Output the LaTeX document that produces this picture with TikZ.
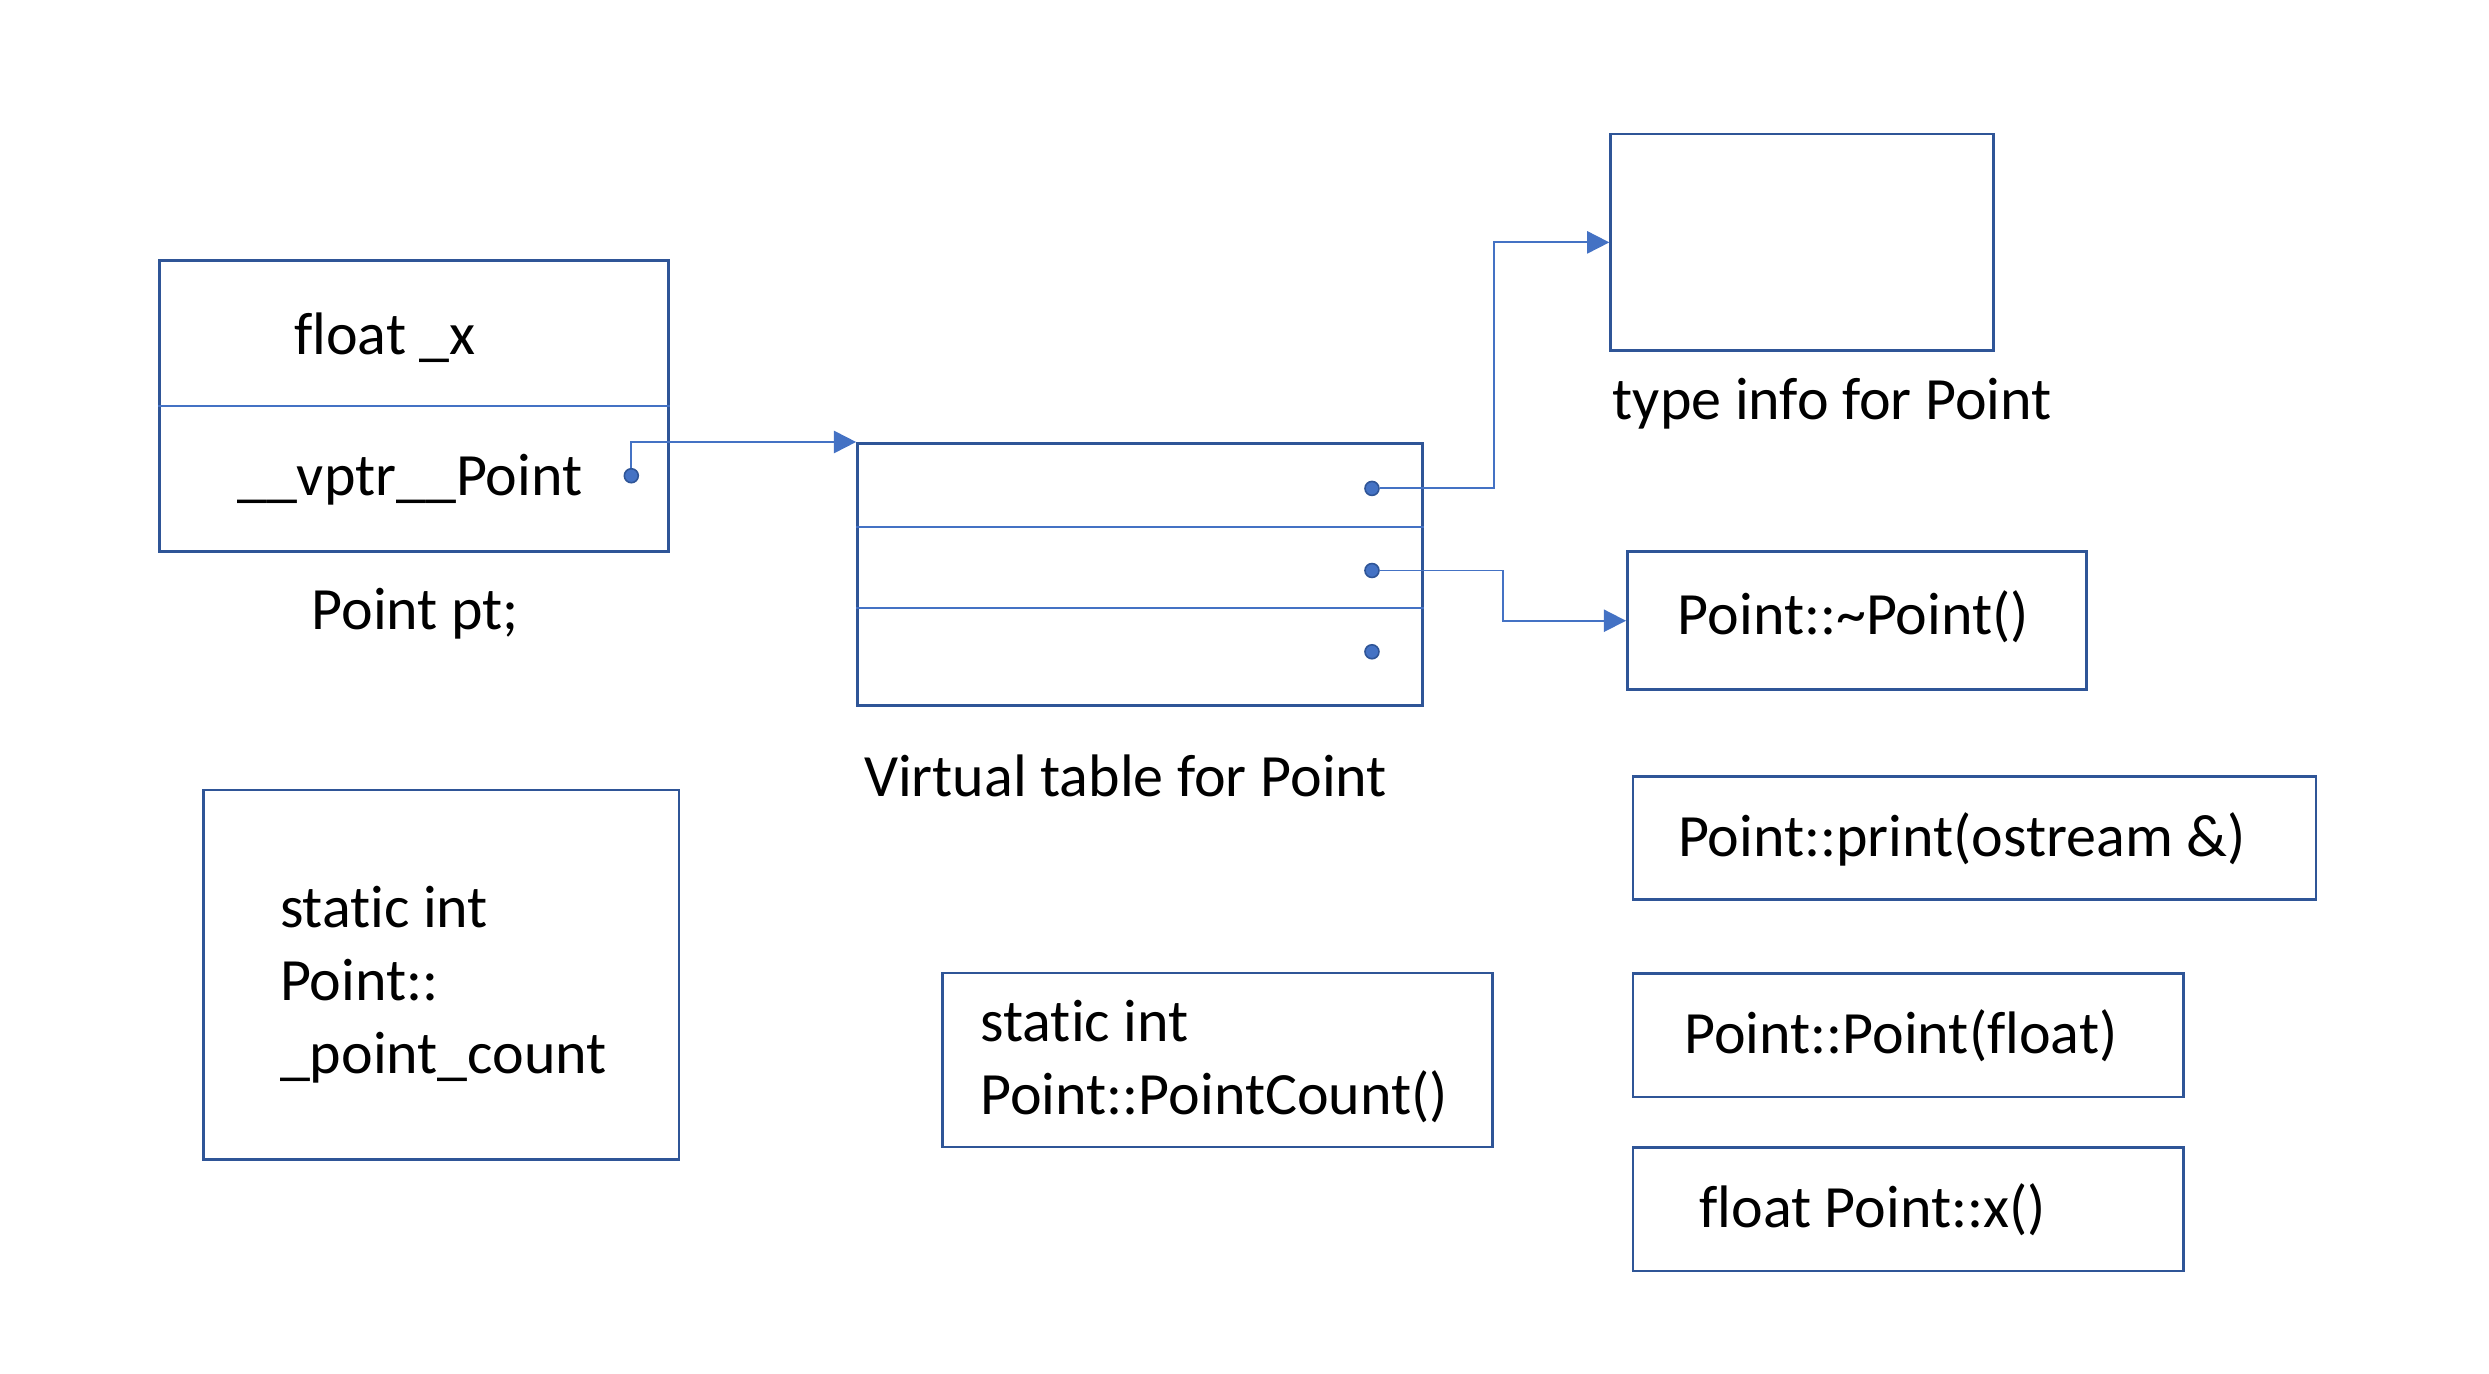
\documentclass[tikz,border=0pt]{standalone}
\usepackage{fontspec}
\setmainfont{Carlito}[Ligatures=NoCommon]
\usetikzlibrary{arrows.meta,calc,fit}
\definecolor{boxblue}{HTML}{2F5597}
\definecolor{linkblue}{HTML}{4472C4}
\begin{document}
\begin{tikzpicture}
	  [
	    x                   = 0.5pt,
	    y                   = -0.5pt,
	    every node/.style   = {font=\fontsize{18.9}{23}\selectfont},
	    box/.style          = {draw=boxblue, line width=0.85pt, inner sep=0pt},
	    sep/.style          = {draw=linkblue, line width=0.6pt},
	    link/.style         = {draw=linkblue, line width=0.6pt, -{Triangle[length=7pt, width=7pt]}},
	    slot/.style         = {circle, fill=linkblue, draw=boxblue, line width=0.5pt, inner sep=0pt, minimum size=4.4pt},
	    txt/.style          = {inner sep=0pt, anchor=base west, align=left}
	  ]
	  \useasboundingbox (0,0) rectangle (1568,865);
	  % object pt and its vtable
	  \node[box, fit={(100.5,163.9) (421.2,347.6)}] (pt) {};
	  \node[box, fit={(540.2,279.3) (896.3,444.6)}] (vt) {};
	  \node[box, fit={(1014.7,84.4) (1256,221)}] (ti) {};
	  \draw[sep] (pt.west) -- (pt.east);
	  \foreach \f in {0.319,0.627}
	    \draw[sep] ($(vt.north west)!\f!(vt.south west)$) -- ($(vt.north east)!\f!(vt.south east)$);
	  % member functions
	  \node[box, fit={(1025.2,347.6) (1314.5,434.5)}] (dtor) {};
	  \node[box, fit={(1028.7,489) (1459,566.8)}] (prt) {};
	  \node[box, fit={(1028.7,613.3) (1375.5,691)}] (ctor) {};
	  \node[box, fit={(1028.7,723.1) (1375.5,800.7)}] (getx) {};
	  % statics
	  \node[box, fit={(128,497.6) (427.7,730.6)}] (cnt) {};
	  \node[box, fit={(593.7,613) (940.2,722.6)}] (pcnt) {};

	  \node[txt] (tx) at (185,223.6) {float \_x};
	  \node[txt] (tv) at (149,312) {\_\_vptr\_\_Point};
	  \node[txt] (tpt) at (196,396.5) {Point pt;};
	  \node[txt] (tti) at (1015.6,264.3) {type info for Point};
	  \node[txt] (tvt) at (544,502) {Virtual table for Point};
	  \node[txt] (tdtor) at (1056.6,400) {Point::\textasciitilde Point()};
	  \node[txt] (tprt) at (1056.7,539.8) {Point::print(ostream \&)};
	  \node[txt] (tctor) at (1060.7,663.5) {Point::Point(float)};
	  \node[txt] (tgetx) at (1070.2,773.1) {float Point::x()};
	  % base of a multi-line node is its last line
	  \node[txt] (tcnt) at (176,676.4) {static int\\Point::\\\_point\_count};
	  \node[txt] (tpcnt) at (617.3,702.1) {static int\\Point::PointCount()};

	  \node[slot] (d0) at (397.7,299.7) {};
	  \foreach \n/\y in {1/307.7,2/359.4,3/410.6}
	    \node[slot] (d\n) at (864.3,\y) {};
	  \draw[link] (d0) |- (vt.north west);
	  \draw[link] (d1) -- ++(77,0) |- (ti.west);
	  \draw[link] (d2) -- ++(82.4,0) |- (dtor.west);
	\end{tikzpicture}
\end{document}
